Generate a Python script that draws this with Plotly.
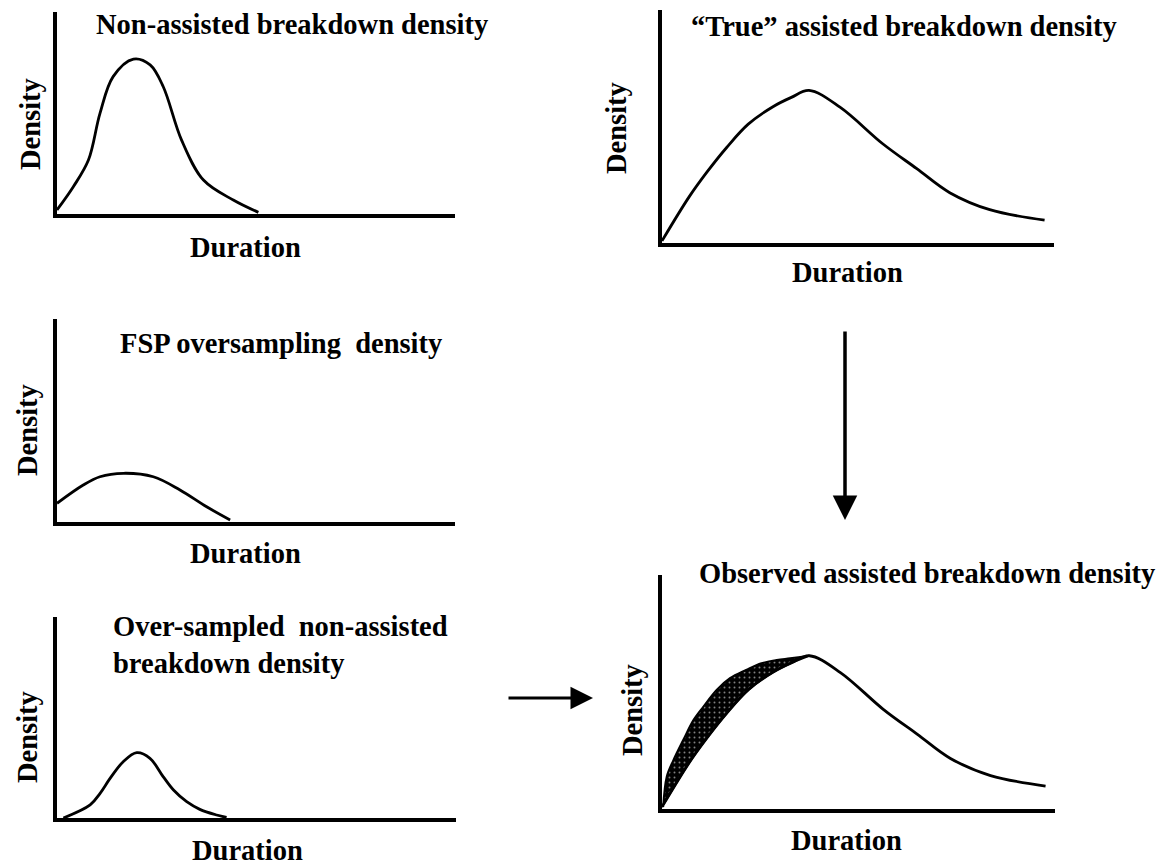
import plotly.graph_objects as go

# ---------------- data (duration / density in arbitrary 0-100 units) ----------------
nonassist_x = [0, 4.1, 7.9, 10.8, 14.1, 19.2, 23.4, 26.7, 31.3, 36.8, 44.3, 50.6]
nonassist_y = [2.0, 13.5, 26.7, 49.8, 68.0, 76.7, 73.8, 63.0, 36.6, 16.8, 6.9, 0.8]

true_x = [0, 7, 11.5, 16.5, 22, 28.3, 33, 37.5, 45.4, 56.3, 65, 73.4, 83.6, 97.6]
true_y = [0.9, 20, 30.5, 41, 51, 58.5, 62.5, 65.5, 58.3, 42.6, 31.9, 21.6, 14.3, 9.8]

fsp_x = [0, 6.6, 10.8, 16.7, 24.2, 30.9, 37.6, 43.5]
fsp_y = [9.2, 18.2, 22.3, 24.0, 22.3, 15.8, 7.5, 1.0]

over_x = [1.6, 8.3, 10.8, 13.3, 16.6, 20.0, 23.3, 26.6, 29.2, 32.5, 35.8, 40.0, 42.5]
over_y = [0, 6.5, 12.3, 19.7, 28.0, 32.5, 29.7, 20.6, 13.9, 8.1, 4.3, 1.5, 0.3]

observed_x = [0.3, 1.2, 2.9, 5.4, 8.0, 10.5, 13.9, 17.3, 21.4, 25.3, 29.2, 32.6, 37.5]
observed_y = [0.9, 13.8, 20.9, 29.5, 38.0, 43.7, 50.9, 55.9, 59.4, 62.3, 63.7, 64.4, 65.5]

titles = [
    "Non-assisted breakdown density",
    "\u201cTrue\u201d assisted breakdown density",
    "FSP oversampling  density",
    "Over-sampled  non-assisted<br>breakdown density",
    "Observed assisted breakdown density",
]
x_label = "Duration"
y_label = "Density"

# ---------------- layout helpers ----------------
W, H = 1163, 866
def fx(p):
    return p / W
def fy(p):
    return 1 - p / H

# panel boxes in pixels: (left, right), (top, bottom)
boxes = [
    ((57, 455), (12, 214)),
    ((662, 1054), (10, 243)),
    ((57, 455), (319, 522)),
    ((57, 456), (617, 818)),
    ((662, 1055), (575, 809)),
]

fig = go.Figure()
line = dict(color="black", width=2.8, shape="spline", smoothing=1.0)

def add_curve(i, xs, ys):
    sfx = "" if i == 0 else str(i + 1)
    fig.add_trace(go.Scatter(x=xs, y=ys, mode="lines", line=line,
                             xaxis="x" + sfx, yaxis="y" + sfx,
                             showlegend=False, hoverinfo="skip"))

add_curve(0, nonassist_x, nonassist_y)
add_curve(1, true_x, true_y)
add_curve(2, fsp_x, fsp_y)
add_curve(3, over_x, over_y)

# shaded over-sampling region (observed curve above true curve)
lower = [(x, y) for x, y in zip(true_x, true_y) if x <= observed_x[-1]]
poly_x = observed_x + [p[0] for p in reversed(lower)]
poly_y = observed_y + [p[1] for p in reversed(lower)]
fig.add_trace(go.Scatter(x=poly_x, y=poly_y, mode="lines", fill="toself",
                         fillcolor="black",
                         fillpattern=dict(shape=".", bgcolor="black", fgcolor="white",
                                          size=5, solidity=0.12),
                         line=dict(color="black", width=2, shape="spline", smoothing=1.0),
                         xaxis="x5", yaxis="y5", showlegend=False, hoverinfo="skip"))
add_curve(4, true_x, true_y)

axis_common = dict(showline=True, linecolor="black", showgrid=False, zeroline=False,
                   showticklabels=False, ticks="", fixedrange=True)
layout_axes = {}
for i, ((l, r), (t, b)) in enumerate(boxes):
    sfx = "" if i == 0 else str(i + 1)
    lw = 4 if i in (1, 4) else 3.5
    layout_axes["xaxis" + sfx] = dict(axis_common, domain=[fx(l), fx(r)], range=[0, 100],
                                      anchor="y" + sfx, linewidth=lw)
    layout_axes["yaxis" + sfx] = dict(axis_common, domain=[fy(b), fy(t)], range=[0, 100],
                                      anchor="x" + sfx, linewidth=3.5)

font = dict(family="Liberation Serif", size=28.5, color="black", weight="bold")
ann = []
# titles
title_pos = [(292, 25, "center"), (904, 26, "center"), (281, 343, "center"),
             (111, 645, "left"), (927, 573, "center")]
for text, (x, y, anc) in zip(titles, title_pos):
    ann.append(dict(text=text, x=fx(x), y=fy(y), xref="paper", yref="paper",
                    xanchor=anc, yanchor="middle", align="left", showarrow=False, font=font))
# x labels
for x, y in [(245, 247), (847, 273), (245, 553), (247, 850), (846, 840)]:
    ann.append(dict(text=x_label, x=fx(x), y=fy(y), xref="paper", yref="paper",
                    xanchor="center", yanchor="middle", showarrow=False, font=font))
# y labels
for x, y in [(31, 124), (616, 128), (27, 430), (27, 737), (632, 710)]:
    ann.append(dict(text=y_label, x=fx(x), y=fy(y), xref="paper", yref="paper",
                    xanchor="center", yanchor="middle", textangle=-90,
                    showarrow=False, font=font))
# arrows
ann.append(dict(text="", x=fx(845), y=fy(520), xref="paper", yref="paper",
                ax=0, ay=-190, showarrow=True, arrowhead=2, arrowwidth=3.5,
                arrowsize=1.4, arrowcolor="black"))
ann.append(dict(text="", x=fx(593), y=fy(698), xref="paper", yref="paper",
                ax=-86, ay=0, showarrow=True, arrowhead=2, arrowwidth=3,
                arrowsize=1.5, arrowcolor="black"))

fig.update_layout(width=W, height=H, autosize=False,
                  margin=dict(l=0, r=0, t=0, b=0),
                  paper_bgcolor="white", plot_bgcolor="white",
                  annotations=ann, **layout_axes)

fig.write_html("out.html", config={"displayModeBar": False},
               post_script="document.body.style.margin='0';")
